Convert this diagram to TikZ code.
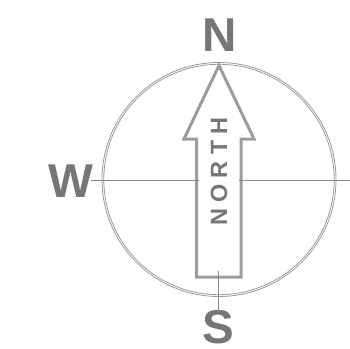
\documentclass[tikz,border=0pt]{standalone}
\usepackage{fontspec}
\setmainfont{Liberation Sans}
\definecolor{lettergray}{HTML}{767676}
\definecolor{ringgray}{HTML}{9A9A9A}
\definecolor{arrowgray}{HTML}{9C9C9C}
\definecolor{linegray}{HTML}{8A8A8A}
\begin{document}
\begin{tikzpicture}[x=1pt,y=-1pt,
  ring/.style={draw=ringgray,line width=0.8pt},
  axisline/.style={draw=linegray,line width=0.9pt},
  arrowline/.style={draw=arrowgray,line width=3pt,line join=miter,fill=white},
  cardinal/.style={text=lettergray,font=\bfseries\fontsize{47.5}{47.5}\selectfont,inner sep=0pt,anchor=base},
  arrowtext/.style={text=lettergray,font=\bfseries\fontsize{23.5}{23.5}\selectfont\addfontfeature{LetterSpace=27},inner sep=0pt,rotate=90}]
\useasboundingbox (0,0) rectangle (350,348);
\coordinate (c) at (219,179.5);
\draw[ring] (c) circle[radius=117];
\draw[ring] (c) circle[radius=115.2];
\draw[arrowline] (196.5,277) -- (196.5,139) -- (184,139) -- (219,65.5) -- (254,139) -- (241,139) -- (241,277) -- cycle;
\node[cardinal] (N) at (219.5,51) {N};
\node[cardinal] (W) at (70.5,197) {W};
\node[cardinal] (S) at (218.5,343.5) {S};
\coordinate (hl1) at (90.7,180);
\coordinate (hl2) at (199,180);
\coordinate (hr1) at (239,180);
\coordinate (hr2) at (350,180);
\coordinate (v1) at (218.5,271);
\coordinate (v2) at (218.5,311.7);
\draw[axisline] (hl1) -- (hl2);
\draw[axisline] (hr1) -- (hr2);
\draw[axisline] (v1) -- (v2);
\node[arrowtext] (north) at (219,171.5) {NORTH};
\end{tikzpicture}
\end{document}
